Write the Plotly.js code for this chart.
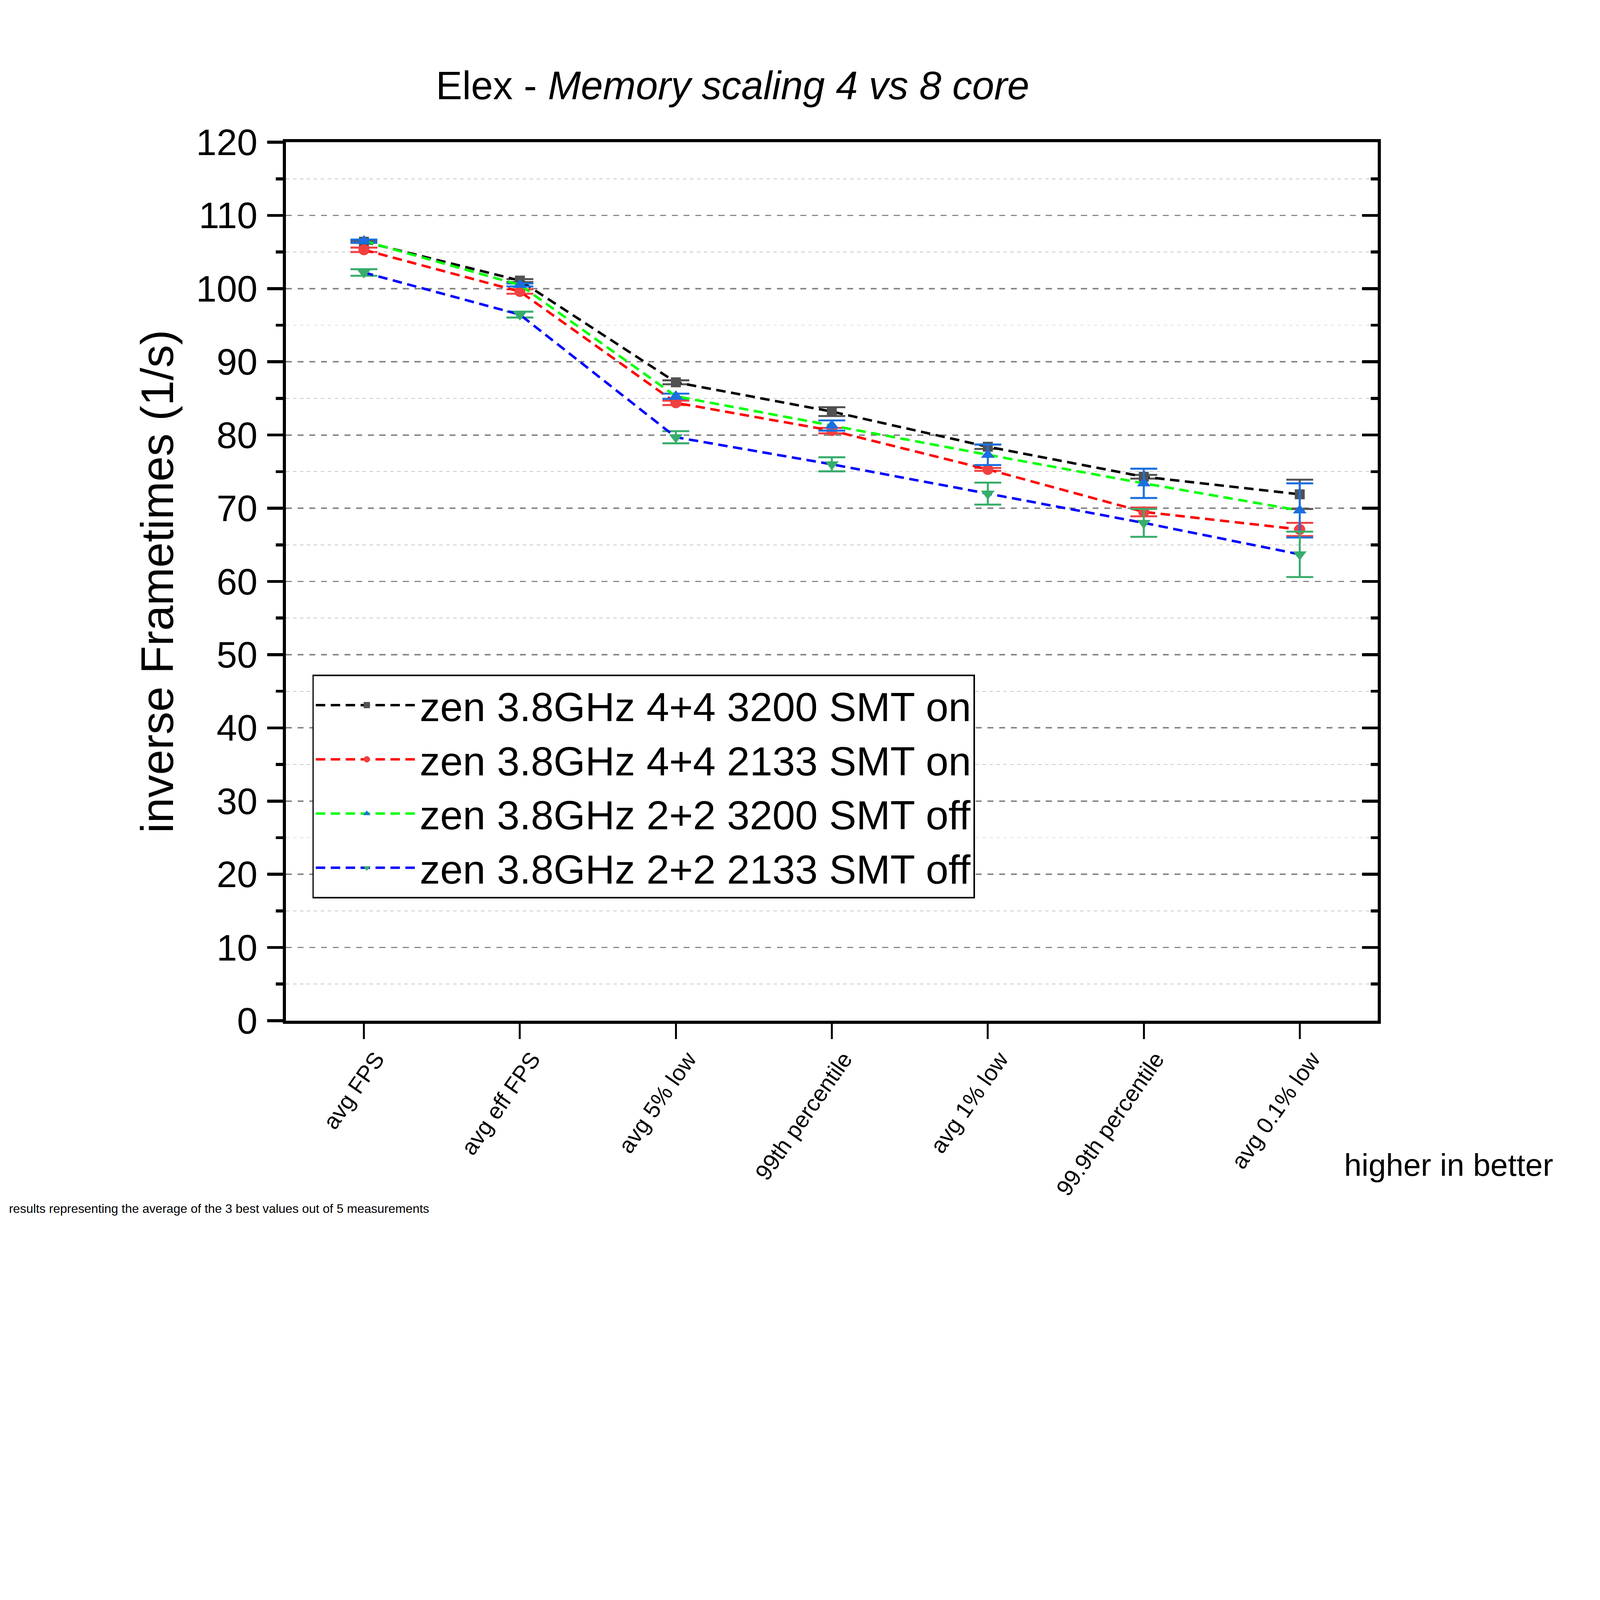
<!DOCTYPE html>
<html>
<head>
<meta charset="utf-8">
<script src="https://cdn.plot.ly/plotly-3.0.1.min.js"></script>
<style>
  html, body { margin: 0; padding: 0; background: #fff; overflow: hidden; }
</style>
</head>
<body>
<div id="chart"></div>
<script>
// categories on the x axis
var categories = ['avg FPS', 'avg eff FPS', 'avg 5% low', '99th percentile',
                  'avg 1% low', '99.9th percentile', 'avg 0.1% low'];
var catIndex = [0, 1, 2, 3, 4, 5, 6];

// series names
var names = ['zen 3.8GHz 4+4 3200 SMT on', 'zen 3.8GHz 4+4 2133 SMT on',
             'zen 3.8GHz 2+2 3200 SMT off', 'zen 3.8GHz 2+2 2133 SMT off'];

// values (1/s) and error bars
var smtOn3200  = [106.4, 101.1, 87.2, 83.2, 78.4, 74.3, 71.9];
var smtOn3200Err  = [0.15, 0.2, 0.27, 0.6, 0.3, 0.25, 2.0];
var smtOn2133  = [105.3, 99.6, 84.4, 80.6, 75.3, 69.5, 67.1];
var smtOn2133Err  = [0.3, 0.3, 0.3, 0.37, 0.2, 0.6, 0.9];
var smtOff3200 = [106.5, 100.5, 85.3, 81.3, 77.3, 73.4, 69.7];
var smtOff3200Err = [0.2, 0.2, 0.35, 0.7, 1.4, 2.0, 3.7];
var smtOff2133 = [102.2, 96.45, 79.7, 76.0, 72.0, 68.0, 63.7];
var smtOff2133Err = [0.45, 0.4, 0.83, 0.96, 1.5, 1.9, 3.1];

var FONT = 'Liberation Sans, Arial, sans-serif';

// the chart was laid out for 6432x4923, shrink it if the window is smaller
var W = 6432, H = 4923;
var S = Math.min(window.innerWidth / W, window.innerHeight / H, 1);
function px(v) { return v * S; }

var chartDiv = document.getElementById('chart');
chartDiv.style.width = px(W) + 'px';
chartDiv.style.height = px(H) + 'px';

// rotated category labels sit a bit right of their tick in the original
var labelShift = 0.077;

function series(name, y, err, lineColor, markColor, symbol, size) {
    return {
        type: 'scatter',
        mode: 'lines+markers',
        name: name,
        x: categories,
        y: y,
        line: {color: lineColor, width: px(10), dash: px(38) + 'px,' + px(22) + 'px'},
        marker: {color: markColor, symbol: symbol, size: px(size), line: {width: 0}},
        error_y: {type: 'data', array: err, visible: true,
                  color: markColor, thickness: px(8), width: px(54)}
    };
}

// transparent helper traces, only there so the extra axes get drawn
function helper(x, y, xa, ya) {
    return {type: 'scatter', mode: 'markers', x: x, y: y, xaxis: xa, yaxis: ya,
            marker: {opacity: 0}, showlegend: false, hoverinfo: 'skip'};
}

var data = [
    helper(catIndex, smtOn3200, 'x2', 'y'),
    helper(categories, smtOn3200, 'x', 'y2'),
    helper(categories, smtOn3200, 'x', 'y3'),
    series(names[0], smtOn3200, smtOn3200Err, '#000000', '#515151', 'square', 40),
    series(names[1], smtOn2133, smtOn2133Err, '#ff0000', '#f14040', 'circle', 44),
    series(names[2], smtOff3200, smtOff3200Err, '#00ff00', '#1a6fdf', 'triangle-up', 48),
    series(names[3], smtOff2133, smtOff2133Err, '#0000ff', '#37ad6b', 'triangle-down', 48)
];

var layout = {
    width: px(W),
    height: px(H),
    margin: {l: px(1149), r: px(894), t: px(571), b: px(820)},
    paper_bgcolor: '#ffffff',
    plot_bgcolor: '#ffffff',
    font: {family: FONT, color: '#000000'},
    title: {
        text: 'Elex - <i>Memory scaling 4 vs 8 core</i>',
        font: {family: FONT, size: px(159), color: '#000000'},
        xref: 'container', x: 0.2724, xanchor: 'left',
        yref: 'container', y: 0.9303, yanchor: 'middle'
    },
    xaxis: {
        type: 'category',
        categoryorder: 'array',
        categoryarray: categories,
        range: [-0.5, 6.5],
        showline: true, linecolor: '#000', linewidth: px(12), mirror: true,
        ticks: 'outside', ticklen: px(62), tickwidth: px(8), tickcolor: '#000',
        showticklabels: false,
        showgrid: false, zeroline: false
    },
    // label-only axis, slightly offset so the rotated labels end right of the ticks
    xaxis2: {
        overlaying: 'x', anchor: 'y', side: 'bottom',
        type: 'linear',
        range: [-0.5 - labelShift, 6.5 - labelShift],
        tickmode: 'array', tickvals: catIndex, ticktext: categories,
        ticks: 'outside', ticklen: px(62), tickcolor: 'rgba(0,0,0,0)',
        tickangle: -55,
        tickfont: {family: FONT, size: px(92), color: '#000'},
        showline: false, showgrid: false, zeroline: false
    },
    yaxis: {
        range: [0, 120],
        dtick: 10,
        showline: true, linecolor: '#000', linewidth: px(12), mirror: true,
        ticks: 'outside', ticklen: px(63), tickwidth: px(12), tickcolor: '#000',
        showticklabels: false,
        showgrid: true, gridcolor: '#888888', gridwidth: px(6),
        griddash: px(24) + 'px,' + px(23) + 'px',
        zeroline: false,
        minor: {dtick: 5, ticks: 'outside', ticklen: px(29), tickwidth: px(12), tickcolor: '#000',
                showgrid: true, gridcolor: '#c8c8c8', gridwidth: px(3),
                griddash: px(14) + 'px,' + px(14) + 'px'}
    },
    // inward ticks on the right frame
    yaxis2: {
        overlaying: 'y', side: 'right', anchor: 'x',
        range: [0, 120], dtick: 10,
        showline: false, showgrid: false, zeroline: false,
        showticklabels: false,
        ticks: 'inside', ticklen: px(63), tickwidth: px(12), tickcolor: '#000',
        minor: {dtick: 5, ticks: 'inside', ticklen: px(29), tickwidth: px(12),
                tickcolor: '#000', showgrid: false}
    },
    // tick labels and title of the left axis, set a little further out
    yaxis3: {
        overlaying: 'y', side: 'left', anchor: 'x',
        range: [0, 120], dtick: 10,
        showline: false, showgrid: false, zeroline: false,
        ticks: 'outside', ticklen: px(83), tickcolor: 'rgba(0,0,0,0)',
        tickfont: {family: FONT, size: px(148), color: '#000'},
        title: {text: 'inverse Frametimes (1/s)', standoff: px(30),
                font: {family: FONT, size: px(183), color: '#000'}}
    },
    showlegend: true,
    legend: {
        x: 0.0242, y: 0.394, xanchor: 'left', yanchor: 'top',
        bgcolor: '#ffffff', bordercolor: '#000000', borderwidth: px(6),
        font: {family: FONT, size: px(164), color: '#000'},
        itemwidth: px(410),
        tracegroupgap: 0
    },
    annotations: [
        {text: 'higher in better', xref: 'paper', yref: 'paper',
         x: 0.9685, y: -0.1642, xanchor: 'left', yanchor: 'middle', showarrow: false,
         font: {family: FONT, size: px(126), color: '#000'}},
        {text: 'results representing the average of the 3 best values out of 5 measurements',
         xref: 'paper', yref: 'paper', x: -0.2543, y: -0.2138,
         xanchor: 'left', yanchor: 'middle', showarrow: false,
         font: {family: FONT, size: px(50), color: '#000'}}
    ]
};

Plotly.newPlot('chart', data, layout, {staticPlot: true});
</script>
</body>
</html>
